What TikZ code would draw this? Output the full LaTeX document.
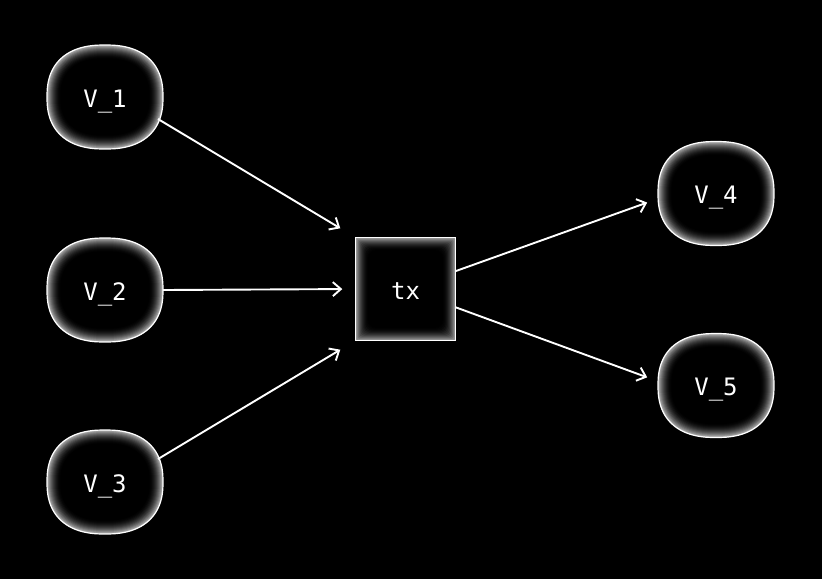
\documentclass[tikz,border=0pt]{standalone}
\usepackage{fontspec}
\setmonofont{DejaVu Sans Mono}
\usetikzlibrary{arrows.meta}
\begin{document}
\begin{tikzpicture}[x=1pt,y=-1pt,
  vlabel/.style={font=\ttfamily\fontsize{24}{28}\selectfont, text=white, inner sep=0pt, anchor=base},
  vnode/.style={rectangle, minimum width=116pt, minimum height=104pt, inner sep=0pt},
  boxnode/.style={rectangle, minimum width=100pt, minimum height=103pt, inner sep=0pt},
  conn/.style={draw=white, line width=1.9pt, -{Straight Barb[length=8pt,width=14pt,line width=1.9pt]}},
  sq/.style={domain=1.5:358.5, samples=120, variable=\t}
]
\fill[black] (0,0) rectangle (822,579);
\newcommand{\sqpath}[4]{plot[sq] ({#1+(#3)*cos(\t)/abs(cos(\t))*abs(cos(\t))^0.833}, {#2+(#4)*sin(\t)/abs(sin(\t))*abs(sin(\t))^0.833}) -- cycle}
\newcommand{\glowvert}[4]{%
  \foreach \i in {0,...,14}{%
    \pgfmathsetmacro{\lev}{70*(1-\i/14)^2}%
    \fill[white!\lev!black] \sqpath{#1}{#2}{58-\i}{52-\i};
  }%
  \draw[white, line width=1.2pt] \sqpath{#1}{#2}{58}{52};
  \node[vnode] (#3) at (#1,#2) {};
  \node[vlabel] (#3l) at (#1,{#2+10}) {#4};
}
\glowvert{105}{97}{v1}{V\_1}
\glowvert{105}{290}{v2}{V\_2}
\glowvert{105}{482}{v3}{V\_3}
\glowvert{716}{193.5}{v4}{V\_4}
\glowvert{716}{385.5}{v5}{V\_5}
\foreach \i in {0,...,13}{%
  \pgfmathsetmacro{\lev}{62*(1-\i/13)^2}%
  \fill[white!\lev!black, rounded corners={\i*0.7pt}] ({355.5+\i},{237.5+\i}) rectangle ({455.5-\i},{340.5-\i});
}
\draw[white, line width=1.2pt] (355.5,237.5) rectangle (455.5,340.5);
\node[boxnode] (tx) at (405.5,289) {};
\node[vlabel] (txl) at (405.5,299) {tx};
% connector end points on the rounded borders
\coordinate (s1) at (158,119);
\coordinate (s3) at (158,459);
\coordinate (e4) at (658,198.7);
\coordinate (e5) at (658,381.3);
\draw[conn, shorten >=17.5pt] (s1) -- (tx.north west);
\draw[conn, shorten >=13pt] (v2.east) -- (tx.west);
\draw[conn, shorten >=17.5pt] (s3) -- (tx.south west);
\draw[conn, shorten >=11.5pt] (tx) -- (e4);
\draw[conn, shorten >=11.5pt] (tx) -- (e5);
\end{tikzpicture}
\end{document}
